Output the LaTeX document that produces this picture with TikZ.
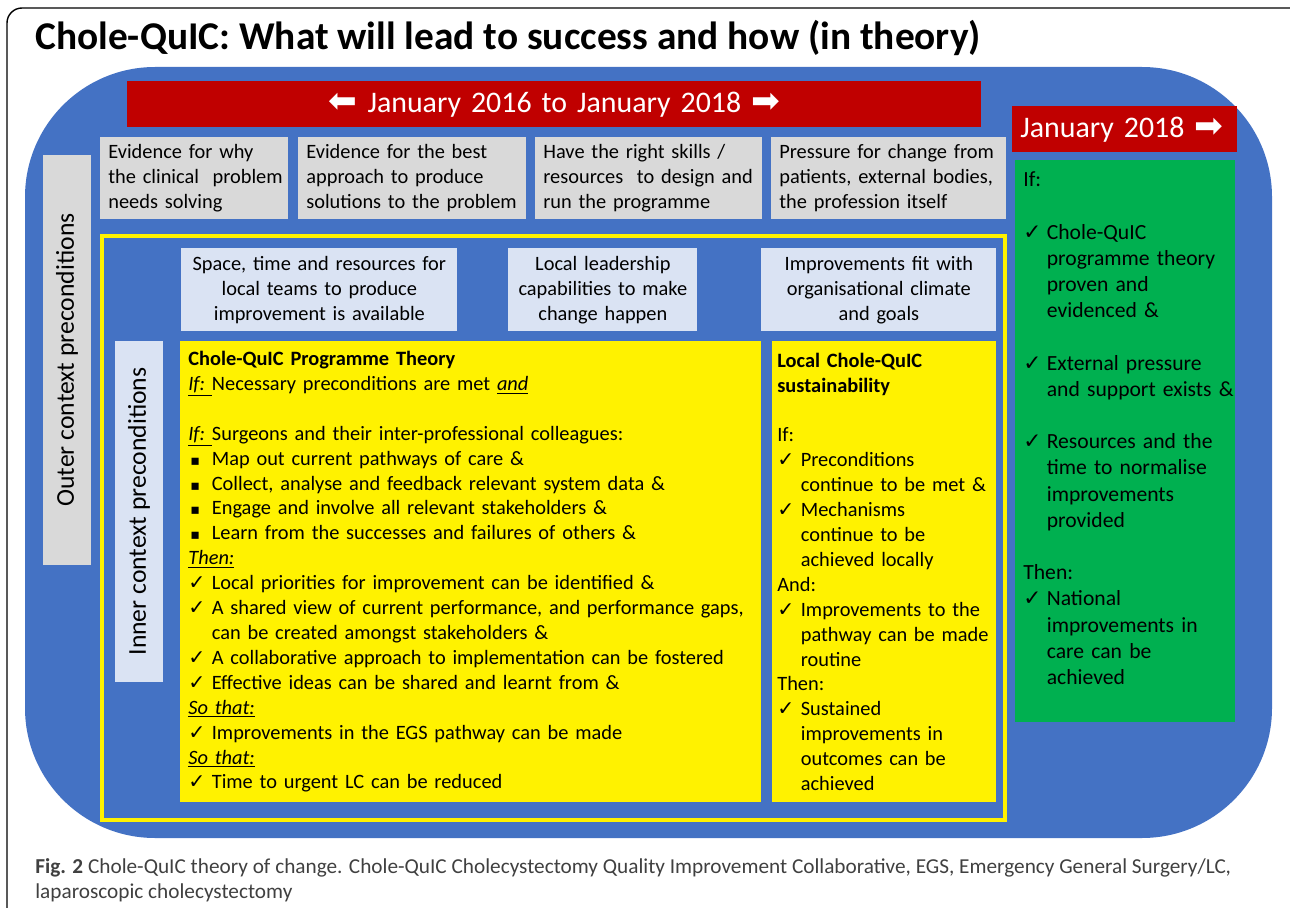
\documentclass[tikz,border=0pt]{standalone}
\usepackage{fontspec}
\usepackage{graphicx}
\setmainfont{Carlito}
\newfontfamily\symf{DejaVu Sans}
\usepackage{tikz}
\usetikzlibrary{positioning}
\definecolor{ppblue}{HTML}{4472C4}
\definecolor{ppred}{HTML}{C00000}
\definecolor{ppgreen}{HTML}{00B050}
\definecolor{ppgrey}{HTML}{D9D9D9}
\definecolor{pplight}{HTML}{DAE3F3}
\definecolor{captxt}{HTML}{404040}
\newcommand{\ck}{\makebox[0.47cm][l]{{\symf\bfseries ✓}}}
\newcommand{\bl}{\makebox[0.47cm][l]{\hspace{0.04cm}\scalebox{0.7}{\symf ▪}}}
\newcommand{\ind}{\hspace*{0.47cm}}
\newcommand{\uit}[1]{\underline{\textit{#1}}}
\tikzstyle{box} = [rectangle, anchor=north west, inner xsep=0.16cm, inner ysep=0pt, align=left, font=\fontsize{11.6}{14.17}\selectfont]
\tikzstyle{greybox} = [box, fill=ppgrey]
\tikzstyle{lightbox} = [box, fill=pplight, align=center]
\tikzstyle{yellowbox} = [box, fill=yellow, inner xsep=0.1cm]
\tikzstyle{redbox} = [box, fill=ppred, text=white, font=\fontsize{17}{20}\selectfont]
\tikzstyle{sidelabel} = [rectangle, rotate=90, inner sep=0pt, font=\fontsize{14.6}{17}\selectfont]

\begin{document}
\begin{tikzpicture}
\useasboundingbox (0,0) rectangle (25.8,-18.16);
\clip (0,0) rectangle (25.8,-18.16);
\draw [line width=0.8pt, rounded corners=0.3cm] (0.14,-0.16) rectangle (26.2,-19);
\fill [ppblue, rounded corners=2.6cm] (0.50,-1.34) rectangle (25.44,-16.76);

\node (title) [anchor=base west, inner sep=0pt, font=\bfseries\fontsize{22.4}{26}\selectfont] at (0.70,-1.0) {Chole-QuIC: What will lead to success and how (in theory)};

\node (period) [redbox, align=center, minimum height=0.92cm, text width=16.76cm] at (2.54,-1.62) {\scalebox{1.15}{\symf ⬅}~January 2016 to January 2018~\scalebox{1.15}{\symf ➡}};
\node (final) [redbox, minimum height=0.92cm, text width=4.18cm] at (20.24,-2.12) {January 2018~\scalebox{1.15}{\symf ➡}};

\node (ev1) [greybox, minimum height=1.64cm, text width=3.44cm] at (2.00,-2.74) {Evidence for why\\\mbox{the clinical\ \ problem}\\needs solving};
\node (ev2) [greybox, minimum height=1.64cm, text width=4.24cm] at (5.96,-2.74) {Evidence for the best\\approach to produce\\\mbox{solutions to the problem}};
\node (ev3) [greybox, minimum height=1.64cm, text width=4.22cm] at (10.70,-2.74) {Have the right skills /\\\mbox{resources\ \ to design and}\\run the programme};
\node (ev4) [greybox, minimum height=1.64cm, text width=4.38cm] at (15.42,-2.74) {\mbox{Pressure for change from}\\\mbox{patients, external bodies,}\\the profession itself};

\node (outlab) [sidelabel, fill=ppgrey, minimum width=8.20cm, minimum height=0.96cm] at (1.34,-7.20) {Outer context preconditions};

\draw [yellow, line width=0.07cm] (2.04,-4.72) rectangle (20.10,-16.40);

\node (sp1) [lightbox, minimum height=1.66cm, text width=5.20cm] at (3.62,-4.96) {Space, time and resources for\\local teams to produce\\improvement is available};
\node (sp2) [lightbox, minimum height=1.66cm, text width=3.46cm] at (10.16,-4.96) {Local leadership\\capabilities to make\\change happen};
\node (sp3) [lightbox, minimum height=1.66cm, text width=4.38cm] at (15.22,-4.96) {Improvements fit with\\organisational climate\\and goals};

\node (inlab) [sidelabel, fill=pplight, minimum width=6.82cm, minimum height=0.96cm] at (2.78,-10.23) {Inner context preconditions};

\node (theory) [yellowbox, inner xsep=0.16cm, minimum height=9.22cm, text width=11.30cm] at (3.60,-6.82) {%
\textbf{Chole-QuIC Programme Theory}\\
\uit{If:\ }Necessary preconditions are met \uit{and}\\
~\\
\uit{If:\ }Surgeons and their inter-professional colleagues:\\
\bl Map out current pathways of care \&\\
\bl Collect, analyse and feedback relevant system data \&\\
\bl Engage and involve all relevant stakeholders \&\\
\bl Learn from the successes and failures of others \&\\
\uit{Then:}\\
\ck Local priorities for improvement can be identified \&\\
\ck \mbox{A shared view of current performance, and performance gaps,}\\
\ind can be created amongst stakeholders \&\\
\ck A collaborative approach to implementation can be fostered\\
\ck Effective ideas can be shared and learnt from \&\\
\uit{So that:}\\
\ck Improvements in the EGS pathway can be made\\
\uit{So that:}\\
\ck Time to urgent LC can be reduced};

\node (sustain) [yellowbox, minimum height=9.22cm, text width=4.28cm] at (15.44,-6.82) {%
\textbf{Local Chole-QuIC}\\
\textbf{sustainability}\\
~\\
If:\\
\ck Preconditions\\
\ind \mbox{continue to be met \&}\\
\ck Mechanisms\\
\ind continue to be\\
\ind achieved locally\\
And:\\
\ck Improvements to the\\
\ind \mbox{pathway can be made}\\
\ind routine\\
Then:\\
\ck Sustained\\
\ind improvements in\\
\ind outcomes can be\\
\ind achieved};

% long-term outcome
\node (result) [box, fill=ppgreen, inner xsep=0.16cm, minimum height=11.24cm, text width=4.08cm, font=\fontsize{12.3}{14.9}\selectfont] at (20.30,-3.20) {%
If:\\
~\\
\ck Chole-QuIC\\
\ind \mbox{programme theory}\\
\ind proven and\\
\ind evidenced \&\\
~\\
\ck External pressure\\
\ind \mbox{and support exists \&}\\
~\\
\ck Resources and the\\
\ind time to normalise\\
\ind improvements\\
\ind provided\\
~\\
Then:\\
\ck National\\
\ind improvements in\\
\ind care can be\\
\ind achieved\\
~};

\node (caption) [anchor=base west, inner sep=0pt, align=left, text=captxt, font=\fontsize{12.1}{14.17}\selectfont] at (0.70,-17.96) {\textbf{Fig. 2} Chole-QuIC theory of change. Chole-QuIC Cholecystectomy Quality Improvement Collaborative, EGS, Emergency General Surgery/LC,\\laparoscopic cholecystectomy};
\end{tikzpicture}
\end{document}
